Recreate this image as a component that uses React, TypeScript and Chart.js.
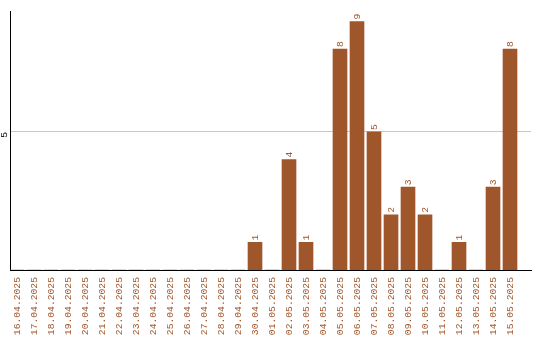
import React, { useEffect, useRef } from 'react';
import { Chart, registerables } from 'chart.js';

Chart.register(...registerables);

const dates = [
  '16.04.2025', '17.04.2025', '18.04.2025', '19.04.2025', '20.04.2025',
  '21.04.2025', '22.04.2025', '23.04.2025', '24.04.2025', '25.04.2025',
  '26.04.2025', '27.04.2025', '28.04.2025', '29.04.2025', '30.04.2025',
  '01.05.2025', '02.05.2025', '03.05.2025', '04.05.2025', '05.05.2025',
  '06.05.2025', '07.05.2025', '08.05.2025', '09.05.2025', '10.05.2025',
  '11.05.2025', '12.05.2025', '13.05.2025', '14.05.2025', '15.05.2025',
];
const counts = [
  0, 0, 0, 0, 0,
  0, 0, 0, 0, 0,
  0, 0, 0, 0, 1,
  0, 4, 1, 0, 8,
  9, 5, 2, 3, 2,
  0, 1, 0, 3, 8,
];
const yTickValues = [5];

const BROWN = '#a0562b';
const FONT_FAMILY = '"Liberation Mono", "DejaVu Sans Mono", monospace';
const FONT_SIZE = 9.7;

export default function App() {
  const ref = useRef<HTMLCanvasElement>(null);

  useEffect(() => {
    if (!ref.current) return;

    const valueLabels = {
      id: 'valueLabels',
      afterDatasetsDraw(chart: any) {
        const ctx = chart.ctx;
        const meta = chart.getDatasetMeta(0);
        ctx.save();
        ctx.fillStyle = BROWN;
        ctx.font = `${FONT_SIZE}px ${FONT_FAMILY}`;
        ctx.textAlign = 'left';
        ctx.textBaseline = 'middle';
        meta.data.forEach((el: any, i: number) => {
          const v = counts[i];
          if (!v) return;
          ctx.save();
          ctx.translate(el.x, el.y - 2);
          ctx.rotate(-Math.PI / 2);
          ctx.fillText(String(v), 0, 0);
          ctx.restore();
        });
        ctx.restore();
      },
    };

    const chart = new Chart(ref.current, {
      type: 'bar',
      data: {
        datasets: [
          {
            data: counts.map((v, i) => ({ x: i, y: v })),
            backgroundColor: BROWN,
            barThickness: 14,
          } as any,
        ],
      },
      options: {
        animation: false,
        responsive: false,
        layout: { padding: { top: 10, right: 9, left: 0, bottom: 0 } },
        plugins: {
          legend: { display: false },
          tooltip: { enabled: false },
        },
        scales: {
          x: {
            type: 'linear',
            offset: false,
            min: -0.412,
            max: 30.235,
            grid: { display: false, drawTicks: false },
            border: { display: true, color: '#000000', width: 1 },
            afterBuildTicks: (s: any) => {
              s.ticks = dates.map((_, i) => ({ value: i }));
            },
            afterFit: (s: any) => {
              s.height = 70;
            },
            ticks: {
              autoSkip: false,
              minRotation: 90,
              maxRotation: 90,
              color: BROWN,
              padding: 7,
              font: { family: FONT_FAMILY, size: FONT_SIZE },
              callback: (v: any) => dates[v as number] ?? '',
            },
          },
          y: {
            min: 0,
            max: 9.35,
            afterBuildTicks: (s: any) => {
              s.ticks = yTickValues.map((v) => ({ value: v }));
            },
            afterFit: (s: any) => {
              s.width = 10;
            },
            grid: { color: '#c8c8c8', drawTicks: false },
            border: { display: true, color: '#000000', width: 1 },
            ticks: {
              minRotation: 90,
              maxRotation: 90,
              color: '#000000',
              padding: 6,
              font: { family: FONT_FAMILY, size: FONT_SIZE },
            },
          },
        },
      } as any,
      plugins: [valueLabels],
    });

    return () => chart.destroy();
  }, []);

  return (
    <div style={{ position: 'fixed', left: 0, top: 0, width: 540, height: 340, background: '#ffffff' }}>
      <canvas ref={ref} width={540} height={340} style={{ display: 'block', width: 540, height: 340 }} />
    </div>
  );
}
